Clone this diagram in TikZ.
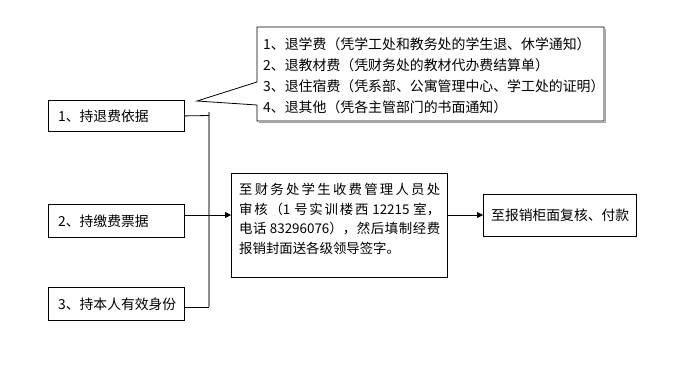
\documentclass[tikz,border=0pt]{standalone}
\usepackage{fontspec}
\setmainfont{Noto Sans CJK SC}
\usetikzlibrary{arrows.meta,calc}
\XeTeXlinebreaklocale "zh"
\XeTeXlinebreakskip=0pt plus 3pt
\tikzset{
  box/.style={draw=black, line width=0.8pt, inner sep=0pt, anchor=north west},
  lbl/.style={anchor=west, inner sep=0pt, font=\fontsize{13.8}{20}\selectfont},
  link/.style={draw=black, line width=0.8pt},
  bus/.style={draw=black!45, line width=1.2pt},
  arr/.style={link, -{Triangle[length=6pt,width=6pt]}},
}
\begin{document}
\begin{tikzpicture}[x=1pt,y=-1pt]
\useasboundingbox (0,0) rectangle (685,384);
% callout
\coordinate (c1) at (257,27);
\coordinate (c2) at (604,27);
\coordinate (c3) at (604,121);
\coordinate (c4) at (257,121);
\coordinate (c5) at (257,105);
\coordinate (tip) at (197,101);
\coordinate (c6) at (257,82);
\draw[black!35, line width=1.2pt] ($(c2)+(1.5,1.5)$) -- ($(c3)+(1.5,1.5)$) -- ($(c4)+(1.5,1.5)$);
\draw[link, fill=white] (c1) -- (c2) -- (c3) -- (c4) -- (c5) -- (tip) -- (c6) -- cycle;
\node[anchor=north west, inner sep=0pt, align=left, font=\fontsize{13.9}{21}\selectfont] (callt) at (263,37)
 {1、退学费（凭学工处和教务处的学生退、休学通知）\\
  2、退教材费（凭财务处的教材代办费结算单）\\
  3、退住宿费（凭系部、公寓管理中心、学工处的证明）\\
  4、退其他（凭各主管部门的书面通知）};
% left boxes
\node[box, minimum width=136, minimum height=31] (b1) at (48,100) {};
\node[lbl] (t1) at (58,116) {1、持退费依据};
\node[box, minimum width=136, minimum height=33] (b2) at (48,204) {};
\node[lbl] (t2) at (58,221) {2、持缴费票据};
\node[box, minimum width=136, minimum height=33] (b3) at (48,287) {};
\node[lbl] (t3) at (58,304) {3、持本人有效身份};
% middle box
\node[box, minimum width=216, minimum height=104] (mid) at (231,173) {};
\node[anchor=north west, inner sep=0pt, text width=201pt, align=justify,
      font=\fontsize{13.4}{19.5}\selectfont] (midt) at (239,183)
 {至财务处学生收费管理人员处\linebreak 审核（1 号实训楼西 12215 室，\linebreak 电话 83296076），然后填制经费\linebreak 报销封面送各级领导签字。};
% right box
\node[box, minimum width=153, minimum height=42] (rb) at (483,194) {};
\node[lbl] (rt) at (491,215) {至报销柜面复核、付款};
% connectors
\coordinate (jt) at (209,112);
\coordinate (j1) at (209,115.5);
\coordinate (j2) at (209,215);
\coordinate (j3) at (209,307);
\draw[bus] (jt) -- (j3);
\draw[link] (b1.east) -- (j1);
\draw[link] (b3.east |- j3) -- (j3);
\draw[arr] (b2.east |- j2) -- (mid.west |- j2);
\draw[arr] (mid.east |- j2) -- (rb.west |- j2);
\end{tikzpicture}
\end{document}
